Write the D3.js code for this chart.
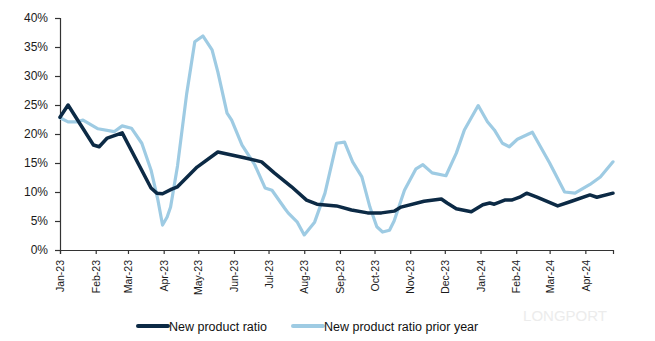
<!DOCTYPE html>
<html>
<head>
<meta charset="utf-8">
<script src="https://cdn.jsdelivr.net/npm/d3@7"></script>
<style>
  body { margin: 0; background: #fff; }
  svg { font-family: "Liberation Sans", Arial, sans-serif; }
</style>
</head>
<body>
<div id="chart"></div>
<script>
// Données (date, valeur en %)
const ratioDates = ["2023-01-01","2023-01-08","2023-01-30","2023-02-04","2023-02-11","2023-02-24",
  "2023-03-21","2023-03-26","2023-03-31","2023-04-08","2023-04-13","2023-04-30","2023-05-18",
  "2023-06-10","2023-06-25","2023-07-06","2023-07-21","2023-08-03","2023-08-12","2023-08-29",
  "2023-09-11","2023-09-25","2023-10-07","2023-10-18","2023-10-24","2023-11-13","2023-11-28",
  "2023-12-03","2023-12-11","2023-12-24","2024-01-03","2024-01-09","2024-01-13","2024-01-22",
  "2024-01-28","2024-02-04","2024-02-10","2024-02-19","2024-03-08","2024-03-20","2024-04-05",
  "2024-04-11","2024-04-25"];
const ratioValues = [22.9, 25.0, 18.1, 17.8, 19.3, 20.2,
  10.7, 9.8, 9.7, 10.5, 10.9, 14.3, 16.9,
  15.9, 15.2, 13.3, 10.9, 8.6, 7.9, 7.6,
  6.9, 6.4, 6.4, 6.7, 7.4, 8.4, 8.8,
  8.1, 7.1, 6.6, 7.8, 8.1, 7.9, 8.6,
  8.6, 9.1, 9.8, 9.1, 7.6, 8.4, 9.5,
  9.1, 9.8];

const priorDates = ["2023-01-01","2023-01-08","2023-01-16","2023-01-21","2023-02-03","2023-02-17",
  "2023-02-24","2023-03-04","2023-03-13","2023-03-21","2023-03-27","2023-03-31","2023-04-04",
  "2023-04-07","2023-04-13","2023-04-21","2023-04-28","2023-05-05","2023-05-13","2023-05-18",
  "2023-05-26","2023-05-30","2023-06-08","2023-06-19","2023-06-28","2023-07-04","2023-07-15",
  "2023-07-18","2023-07-26","2023-08-01","2023-08-10","2023-08-19","2023-08-29","2023-09-05",
  "2023-09-12","2023-09-20","2023-09-27","2023-10-03","2023-10-08","2023-10-14","2023-10-18",
  "2023-10-27","2023-11-06","2023-11-12","2023-11-20","2023-12-02","2023-12-11","2023-12-18",
  "2023-12-30","2024-01-07","2024-01-13","2024-01-20","2024-01-26","2024-02-02","2024-02-15",
  "2024-03-01","2024-03-14","2024-03-23","2024-04-05","2024-04-14","2024-04-25"];
const priorValues = [22.8, 22.1, 22.1, 22.4, 20.9, 20.4,
  21.4, 21.0, 18.4, 13.8, 8.6, 4.3, 5.7,
  7.4, 14.5, 27.0, 35.9, 36.9, 34.5, 30.7,
  23.6, 22.4, 18.1, 14.7, 10.7, 10.3, 7.2,
  6.4, 4.8, 2.6, 4.8, 9.8, 18.4, 18.6,
  15.2, 12.6, 7.4, 4.0, 3.1, 3.4, 5.0,
  10.3, 14.0, 14.7, 13.3, 12.8, 16.7, 20.7,
  24.9, 22.1, 20.7, 18.4, 17.8, 19.1, 20.3,
  15.0, 10.0, 9.8, 11.3, 12.6, 15.2];

const yTicks = [0, 0.05, 0.10, 0.15, 0.20, 0.25, 0.30, 0.35, 0.40];
const seriesNames = ["New product ratio", "New product ratio prior year"];

const width = 655, height = 341;
const parse = d3.timeParse("%Y-%m-%d");

const series = [
  { name: seriesNames[0], color: "#0c2a45", width: 3.5,
    points: ratioDates.map((d, i) => ({ date: parse(d), value: ratioValues[i] / 100 })) },
  { name: seriesNames[1], color: "#9ecbe3", width: 3.2,
    points: priorDates.map((d, i) => ({ date: parse(d), value: priorValues[i] / 100 })) }
];

const svg = d3.select("#chart").append("svg")
  .attr("width", width)
  .attr("height", height);

// Echelles
const x = d3.scaleTime()
  .domain([parse("2023-01-01"), parse("2024-04-25")])
  .range([60, 613]);
const y = d3.scaleLinear()
  .domain([0, 0.40])
  .range([250, 18]);

// Axes
const yAxis = svg.append("g")
  .attr("transform", "translate(60,0)")
  .call(d3.axisLeft(y).tickValues(yTicks).tickFormat(d3.format(".0%")).tickSize(5).tickPadding(7));
const xAxis = svg.append("g")
  .attr("transform", "translate(0,250)")
  .call(d3.axisBottom(x).ticks(d3.timeMonth.every(1)).tickFormat(d3.timeFormat("%b-%y")).tickSize(4));

[yAxis, xAxis].forEach(g => {
  g.select(".domain").attr("stroke", "#333").attr("stroke-width", 1.2);
  g.selectAll(".tick line").attr("stroke", "#333").attr("stroke-width", 1.2);
  g.selectAll("text").attr("fill", "#1a1a1a");
});
yAxis.selectAll("text").style("font-size", "12px");
xAxis.selectAll("text")
  .style("font-size", "10.5px")
  .attr("text-anchor", "end")
  .attr("dy", "0.35em")
  .attr("y", 0)
  .attr("transform", "translate(0,10) rotate(-90)");

// Lignes
const line = d3.line()
  .x(d => x(d.date))
  .y(d => y(d.value));

svg.selectAll("path.serie")
  .data(series.slice().reverse())
  .enter()
  .append("path")
  .attr("class", "serie")
  .attr("fill", "none")
  .attr("stroke", d => d.color)
  .attr("stroke-width", d => d.width)
  .attr("stroke-linejoin", "round")
  .attr("stroke-linecap", "round")
  .attr("d", d => line(d.points));

// Filigrane
svg.append("text")
  .attr("x", 565).attr("y", 321)
  .attr("text-anchor", "middle")
  .style("font-size", "15px")
  .attr("fill", "#ececec")
  .text("LONGPORT");

// Légende
const legendPos = [138, 293];
const legend = svg.selectAll("g.legend")
  .data(series)
  .enter()
  .append("g")
  .attr("class", "legend")
  .attr("transform", (d, i) => `translate(${legendPos[i]},326)`);
legend.append("line")
  .attr("x1", 0).attr("x2", 30)
  .attr("stroke", d => d.color)
  .attr("stroke-width", 4)
  .attr("stroke-linecap", "round");
legend.append("text")
  .attr("x", 31).attr("y", 4.5)
  .style("font-size", "12.5px")
  .attr("fill", "#111")
  .text(d => d.name);
</script>
</body>
</html>
